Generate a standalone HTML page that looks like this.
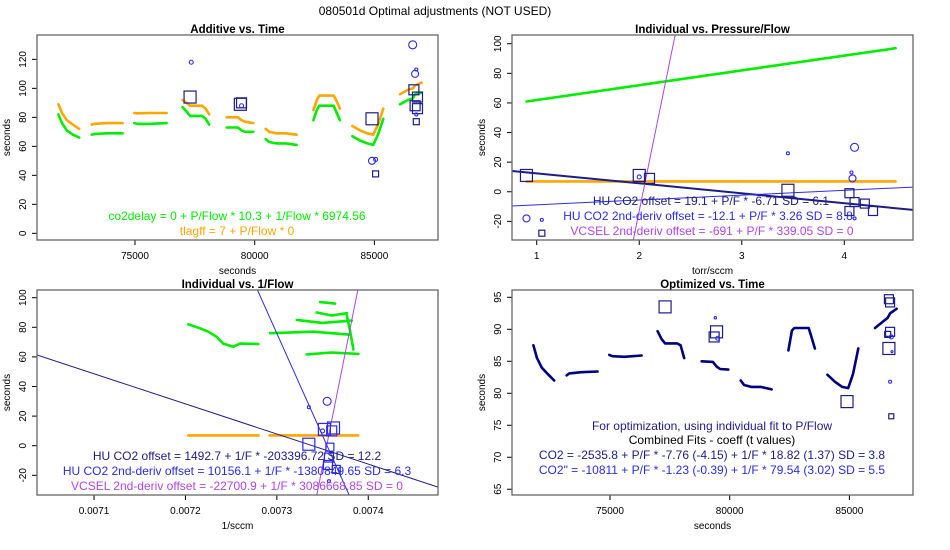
<!DOCTYPE html>
<html><head><meta charset="utf-8">
<style>
html,body{margin:0;padding:0;background:#fff;width:950px;height:550px;overflow:hidden;position:relative;}
svg{display:block;position:absolute;left:0;top:0;font-family:"Liberation Sans",sans-serif;}
</style></head>
<body>
<svg id="chart" width="950" height="550" viewBox="0 0 950 550">
<text x="435" y="15" font-size="12" text-anchor="middle" fill="#000">080501d    Optimal adjustments (NOT USED)</text>
</svg>
<script>
// ---------- data ----------
const segTimes = [
 [71800,71950,72150,72400,72670],
 [73190,73300,73800,74480],
 [74970,75100,75600,76320],
 [76990,77150,77300,77800,77950,78100],
 [78830,79300,79450,79600,79940],
 [80460,80600,80900,81300,81750],
 [82450,82600,82700,83300,83400,83560],
 [84080,84400,84700,84950,85150,85370],
 [86070,86400,86600,86700,86970]
];
const co2delayVals = [
 [82,76,71,68,66],[68,68.5,69,69],[76,75.5,75.5,76],[87,84,81,81,79,75],[73,73,71,70,70],
 [65,63,62,62,61],[78,85,88,88,84,78],[67,64,62,61,68,79],[89,92,93,96,97]
];
const tlagffVals = [
 [89,83,78,75,72],[75,75.5,76,76],[83,82.8,83,83],[92,90,88,88,86,82],[80,80,78,77,76],
 [72,70,69,69,68],[85,92,95,95,92,86],[74,71,69,68,75,86],[96,99,100,102,104]
];
const optimizedVals = [
 [87.5,85.5,84,83,82],[82.8,83.1,83.3,83.4],[86,85.8,85.7,85.9],[89.7,88.5,87.8,87.8,87.5,85.5],[85,84.9,84.2,83.8,83.7],
 [82,81.3,81,81,80.6],[86.7,89.8,90.2,90.2,89,87],[82.9,81.8,81,80.8,83,87],[90.2,91.2,91.8,92.5,93.2]
];
const p1SqT = [77300,79400,79450,84900,86650,86800,86700,86800,85050,86750];
const p1SqV = [94,89,90,79,99,94,88,86,41,77];
const p1SqS = [12,12,10,12,10,10,10,10,6,6];
const p1CiT = [77350,86600,86700,86750,84900,85050,86750,79450];
const p1CiV = [118,130,110,113,50,51,82,88];
const p1CiR = [2,4,3.5,1.5,3.5,2,1.5,2];
const p2GreenX = [0.9,4.5];
const p2GreenY = [61,97];
const p2OrangeX = [0.9,4.5];
const p2OrangeY = [7,7];
const p2Fits = [[19.1,-6.71],[-12.1,3.26],[-691,339.05]];
const p2SqX = [0.9,2.0,2.1,3.45,4.05,4.1,4.2,4.05,4.28,1.05];
const p2SqY = [11,11,9,1,-1,-7,-8,-13,-13,-28];
const p2SqS = [12,12,10,12,9,9,9,9,9,6];
const p2CiX = [0.9,1.05,2.0,3.45,4.1,4.08,4.07,4.1];
const p2CiY = [-18,-19,10,26,30,9,13,-18];
const p2CiR = [3.5,1.5,2,1.5,4,3.5,1.5,1.5];
const p3GreenLines = [
 [[0.0072032,82],[0.0072159,79.3],[0.0072250,77],[0.0072341,73.6],[0.0072414,69],[0.0072524,66.9],[0.0072597,69],[0.0072797,68.7]],
 [[0.0073327,61.7],[0.0073600,63],[0.0073892,62]],
 [[0.0072926,76],[0.0073400,77],[0.0073801,75]],
 [[0.0073218,85],[0.0073500,83],[0.0073820,84.5]],
 [[0.0073436,90],[0.0073600,88],[0.0073765,89.5]],
 [[0.0073473,97],[0.0073637,96]],
 [[0.0073765,88],[0.0073800,78],[0.0073837,65]]
];
const p3OrangeX = [[0.007203,0.007280],[0.007292,0.007389]];
const p3OrangeY = [7,7];
const p3Fits = [[1492.7,-203396.72],[10156.1,-1380849.65],[-22700.9,3086668.85]];
const p3SqX = [0.007335,0.007352,0.007362,0.007358,0.007357,0.007356,0.007360,0.007365];
const p3SqY = [1,11,12,-1,-8,-13,10,-16];
const p3SqS = [12,12,12,8,9,9,10,8];
const p3CiX = [0.007355,0.007335,0.007350,0.007357];
const p3CiY = [30,26,10,-24];
const p3CiR = [4,1.5,2,1.5];
const p4SqT = [77300,79450,79350,84900,86650,86700,86700,86600,86650,86750];
const p4SqV = [93.5,89.6,88.8,78.7,94.7,94.2,89.6,89.2,87,76.4];
const p4SqS = [12,12,10,12,9,9,9,6,12,5];
const p4CiT = [79400,79500,86750,86700,86780];
const p4CiV = [91.8,88.6,88.8,81.8,86.5];
const p4CiR = [1.2,2,2,1.5,1];

const timeTicks = [75000,80000,85000];
const p1YTicks = [0,20,40,60,80,100,120];
const p2XTicks = [1,2,3,4];
const p2YTicks = [-20,0,20,40,60,80,100];
const p3XTicks = [0.0071,0.0072,0.0073,0.0074];
const p3YTicks = [-20,0,20,40,60,80,100];
const p4YTicks = [65,70,75,80,85,90,95];

// ---------- helpers ----------
const NS = "http://www.w3.org/2000/svg";
const svg = document.getElementById('chart');
function add(parent, tag, attrs, name){
  const el = document.createElementNS(NS, tag);
  for (const k in attrs) el.setAttribute(k, attrs[k]);
  
  
  parent.appendChild(el);
  return el;
}
function lin(d0,d1,r0,r1){ return v => r0 + (v-d0)*(r1-r0)/(d1-d0); }

function panel(o){
  const g = add(svg,'g',{},o.name);
  const sx = lin(o.xd[0],o.xd[1],o.x0,o.x1);
  const sy = lin(o.yd[0],o.yd[1],o.y1,o.y0);
  const clipId = o.name+'-clip';
  const cp = add(g,'clipPath',{id:clipId},'clip-region');
  add(cp,'rect',{x:o.x0,y:o.y0,width:o.x1-o.x0,height:o.y1-o.y0},'clip-rect');
  const plot = add(g,'g',{'clip-path':'url(#'+clipId+')'},'plot-area');
  const t = add(g,'text',{x:(o.x0+o.x1)/2,y:o.y0-2,'font-size':11.5,'font-weight':'bold','text-anchor':'middle'},'panel-title');
  t.textContent = o.title;
  const xa = add(g,'g',{},'x-axis');
  add(xa,'line',{x1:sx(o.xt[0]),x2:sx(o.xt[o.xt.length-1]),y1:o.y1,y2:o.y1,stroke:'#000','stroke-width':1},'x-axis-line');
  o.xt.forEach(v=>{
    add(xa,'line',{x1:sx(v),x2:sx(v),y1:o.y1,y2:o.y1+5,stroke:'#000'},'x-tick');
    const tx = add(xa,'text',{x:sx(v),y:o.y1+19,'font-size':10,'text-anchor':'middle'},'x-tick-label');
    tx.textContent = o.xfmt ? o.xfmt(v) : String(v);
  });
  const xl = add(xa,'text',{x:(o.x0+o.x1)/2,y:o.y1+34,'font-size':10,'text-anchor':'middle'},'x-axis-title');
  xl.textContent = o.xlab;
  const ya = add(g,'g',{},'y-axis');
  add(ya,'line',{x1:o.x0,x2:o.x0,y1:sy(o.yt[0]),y2:sy(o.yt[o.yt.length-1]),stroke:'#000'},'y-axis-line');
  o.yt.forEach(v=>{
    add(ya,'line',{x1:o.x0-5,x2:o.x0,y1:sy(v),y2:sy(v),stroke:'#000'},'y-tick');
    const ty = add(ya,'text',{x:0,y:0,'font-size':10,'text-anchor':'middle',transform:'translate('+(o.x0-11)+','+sy(v)+') rotate(-90)'},'y-tick-label');
    ty.textContent = String(v);
  });
  const yl = add(ya,'text',{x:0,y:0,'font-size':10,'text-anchor':'middle',transform:'translate('+(o.x0-27)+','+((o.y0+o.y1)/2)+') rotate(-90)'},'y-axis-title');
  yl.textContent = 'seconds';
  add(g,'rect',{x:o.x0,y:o.y0,width:o.x1-o.x0,height:o.y1-o.y0,fill:'none',stroke:'#666','stroke-width':1.3},'plot-box');
  return {g,plot,sx,sy};
}
function poly(parent,pts,color,w,name){
  add(parent,'polyline',{points:pts.map(p=>p[0].toFixed(1)+','+p[1].toFixed(1)).join(' '),fill:'none',stroke:color,'stroke-width':w,'stroke-linejoin':'round','stroke-linecap':'round'},name);
}
function squares(P,xs,ys,ss,color,name){
  xs.forEach((x,i)=>{ const s=ss[i];
    add(P.plot,'rect',{x:P.sx(x)-s/2,y:P.sy(ys[i])-s/2,width:s,height:s,fill:'none',stroke:color,'stroke-width':1.2},name);});
}
function circles(P,xs,ys,rs,color,name){
  xs.forEach((x,i)=>{
    add(P.plot,'circle',{cx:P.sx(x),cy:P.sy(ys[i]),r:rs[i],fill:'none',stroke:color,'stroke-width':1.1},name);});
}
function label(P,x,y,txt,color,name){
  const t = add(P.g,'text',{x:x,y:y,'font-size':12,'text-anchor':'middle',fill:color},name);
  t.textContent = txt;
}
const NAVY='#1c1c8a', BLUE='#2b2bf0', PURPLE='#b044f0', GREEN='#00ee00', ORANGE='#ffa500';

// ---------- panel 1 ----------
const P1 = panel({name:'panel-additive-vs-time',title:'Additive vs. Time',x0:37,x1:438,y0:35,y1:240,xd:[70906,87657],yd:[-4.6,136.8],xt:timeTicks,yt:p1YTicks,xlab:'seconds'});
segTimes.forEach((ts,i)=>{
  poly(P1.plot, ts.map((t,j)=>[P1.sx(t),P1.sy(tlagffVals[i][j])]), ORANGE, 2.6, 'tlagff-series');
  poly(P1.plot, ts.map((t,j)=>[P1.sx(t),P1.sy(co2delayVals[i][j])]), GREEN, 2.6, 'co2delay-series');
});
squares(P1,p1SqT,p1SqV,p1SqS,NAVY,'hu-co2-marker');
circles(P1,p1CiT,p1CiV,p1CiR,BLUE,'hu-co2-2nd-deriv-marker');
label(P1,237,220,'co2delay = 0 + P/Flow * 10.3 + 1/Flow * 6974.56',GREEN,'co2delay-equation');
label(P1,237,235,'tlagff = 7 + P/Flow * 0',ORANGE,'tlagff-equation');

// ---------- panel 2 ----------
const P2 = panel({name:'panel-individual-vs-pressure-flow',title:'Individual vs. Pressure/Flow',x0:512,x1:913,y0:35,y1:240,xd:[0.759,4.67],yd:[-32.6,105.9],xt:p2XTicks,yt:p2YTicks,xlab:'torr/sccm'});
poly(P2.plot,p2OrangeX.map((x,i)=>[P2.sx(x),P2.sy(p2OrangeY[i])]),ORANGE,2.6,'tlagff-series');
poly(P2.plot,p2GreenX.map((x,i)=>[P2.sx(x),P2.sy(p2GreenY[i])]),GREEN,2.6,'co2delay-series');
const fitCols=[NAVY,BLUE,PURPLE], fitW=[2,1,1], fitNames=['hu-co2-fit-line','hu-co2-2nd-deriv-fit-line','vcsel-fit-line'];
p2Fits.forEach((f,i)=>{
  const xa=0.759, xb=4.67;
  poly(P2.plot,[[P2.sx(xa),P2.sy(f[0]+f[1]*xa)],[P2.sx(xb),P2.sy(f[0]+f[1]*xb)]],fitCols[i],fitW[i],fitNames[i]);
});
squares(P2,p2SqX,p2SqY,p2SqS,NAVY,'hu-co2-marker');
circles(P2,p2CiX,p2CiY,p2CiR,BLUE,'hu-co2-2nd-deriv-marker');
label(P2,711,205,'HU CO2 offset = 19.1 + P/F * -6.71  SD = 6.1',NAVY,'hu-co2-equation');
label(P2,708,220,'HU CO2 2nd-deriv offset = -12.1 + P/F * 3.26  SD = 8.8',BLUE,'hu-co2-2nd-deriv-equation');
label(P2,712,235,'VCSEL 2nd-deriv offset = -691 + P/F * 339.05  SD = 0',PURPLE,'vcsel-equation');

// ---------- panel 3 ----------
const P3 = panel({name:'panel-individual-vs-inverse-flow',title:'Individual vs. 1/Flow',x0:37,x1:438,y0:290,y1:495,xd:[0.0070376,0.0074763],yd:[-33.3,105.2],xt:p3XTicks,yt:p3YTicks,xlab:'1/sccm',xfmt:v=>v.toFixed(4)});
p3OrangeX.forEach(r=>poly(P3.plot,r.map((x,i)=>[P3.sx(x),P3.sy(p3OrangeY[i])]),ORANGE,2.6,'tlagff-series'));
p3GreenLines.forEach(l=>poly(P3.plot,l.map(p=>[P3.sx(p[0]),P3.sy(p[1])]),GREEN,2.6,'co2delay-series'));
p3Fits.forEach((f,i)=>{
  const xa=0.0070376, xb=0.0074763;
  poly(P3.plot,[[P3.sx(xa),P3.sy(f[0]+f[1]*xa)],[P3.sx(xb),P3.sy(f[0]+f[1]*xb)]],fitCols[i],1,fitNames[i]);
});
squares(P3,p3SqX,p3SqY,p3SqS,BLUE,'hu-co2-marker');
circles(P3,p3CiX,p3CiY,p3CiR,BLUE,'hu-co2-2nd-deriv-marker');
label(P3,237,460,'HU CO2 offset = 1492.7 + 1/F * -203396.72  SD = 12.2',NAVY,'hu-co2-equation');
label(P3,237,475,'HU CO2 2nd-deriv offset = 10156.1 + 1/F * -1380849.65  SD = 6.3',BLUE,'hu-co2-2nd-deriv-equation');
label(P3,237,490,'VCSEL 2nd-deriv offset = -22700.9 + 1/F * 3086668.85  SD = 0',PURPLE,'vcsel-equation');

// ---------- panel 4 ----------
const P4 = panel({name:'panel-optimized-vs-time',title:'Optimized vs. Time',x0:512,x1:913,y0:290,y1:495,xd:[70906,87657],yd:[64.1,96.14],xt:timeTicks,yt:p4YTicks,xlab:'seconds'});
segTimes.forEach((ts,i)=>{
  poly(P4.plot, ts.map((t,j)=>[P4.sx(t),P4.sy(optimizedVals[i][j])]), '#000080', 2.6, 'optimized-series');
});
squares(P4,p4SqT,p4SqV,p4SqS,NAVY,'hu-co2-marker');
circles(P4,p4CiT,p4CiV,p4CiR,BLUE,'hu-co2-2nd-deriv-marker');
label(P4,712,430,'For optimization, using individual fit to P/Flow',NAVY,'optimization-note');
label(P4,712,444,'Combined Fits - coeff (t values)','#000','combined-fits-heading');
label(P4,712,459,'CO2 = -2535.8 + P/F * -7.76 (-4.15) + 1/F * 18.82 (1.37)  SD = 3.8',NAVY,'co2-combined-equation');
label(P4,712,474,'CO2" = -10811 + P/F * -1.23 (-0.39) + 1/F * 79.54 (3.02)  SD = 5.5',BLUE,'co2-2nd-deriv-combined-equation');
</script>
</body></html>
